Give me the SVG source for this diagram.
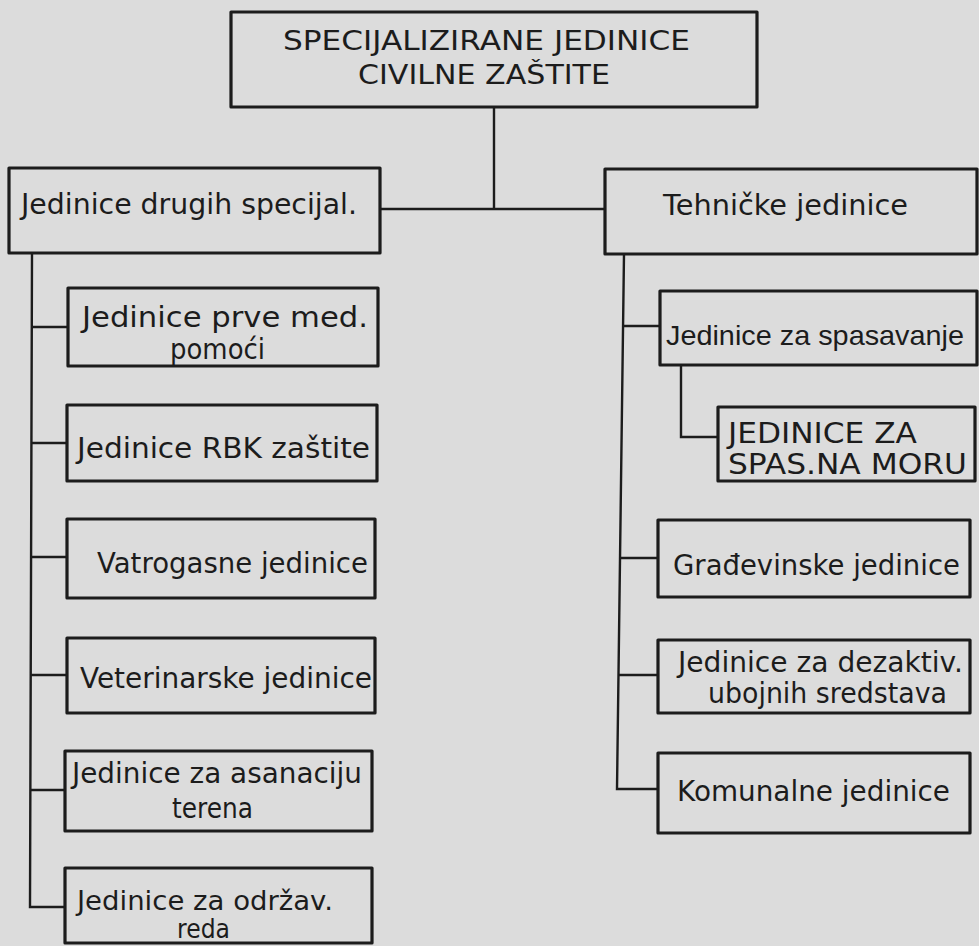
<svg xmlns="http://www.w3.org/2000/svg" width="979" height="946" viewBox="0 0 979 946">
<style>
.box{fill:none;stroke:#1c1c1c;stroke-width:3.2;stroke-linejoin:round}
.c{fill:none;stroke:#1c1c1c;stroke-width:2.4}
text{font-family:"DejaVu Sans","Liberation Sans",sans-serif;fill:#1c1c1c;font-size:28px}
.t{font-size:26px}
.u{font-size:29px}
.s{font-size:26px}
.n{font-family:"Liberation Sans",sans-serif}
</style>
<rect width="979" height="946" fill="#dcdcdc"/>
<g id="connectors">
<path class="c" d="M494,107 V209 M380,209 H605"/>
<path class="c" d="M32,253 L30,907 H65 M31,327 H68 M31,443 H67 M31,557 H67 M30,675 H67 M30,790 H65"/>
<path class="c" d="M624,254 L617,789 H658 M623,326 H660 M621,558 H658 M619,675 H658"/>
<path class="c" d="M681,365 V437 H718"/>
</g>
<g id="root">
<rect class="box" x="231" y="12" width="526" height="95"/>
<text class="t" x="283" y="50" textLength="407" lengthAdjust="spacingAndGlyphs">SPECIJALIZIRANE JEDINICE</text>
<text class="t" x="358" y="84" textLength="252" lengthAdjust="spacingAndGlyphs">CIVILNE ZAŠTITE</text>
</g>
<g id="drugih">
<rect class="box" x="9" y="168" width="371" height="85"/>
<text x="21" y="214" textLength="336" lengthAdjust="spacingAndGlyphs">Jedinice drugih specijal.</text>
</g>
<g id="tehnicke">
<rect class="box" x="605" y="169" width="372" height="85"/>
<text x="663" y="215" textLength="245" lengthAdjust="spacingAndGlyphs">Tehničke jedinice</text>
</g>
<g id="prvemed">
<rect class="box" x="68" y="288" width="310" height="78"/>
<text x="82" y="327" textLength="286" lengthAdjust="spacingAndGlyphs">Jedinice prve med.</text>
<text x="170" y="359" textLength="95" lengthAdjust="spacingAndGlyphs">pomoći</text>
</g>
<g id="rbk">
<rect class="box" x="67" y="405" width="310" height="76"/>
<text x="77" y="458" textLength="293" lengthAdjust="spacingAndGlyphs">Jedinice RBK zaštite</text>
</g>
<g id="vatrogasne">
<rect class="box" x="67" y="519" width="308" height="79"/>
<text x="97" y="573" textLength="271" lengthAdjust="spacingAndGlyphs">Vatrogasne jedinice</text>
</g>
<g id="veterinarske">
<rect class="box" x="67" y="638" width="308" height="75"/>
<text x="80" y="688" textLength="292" lengthAdjust="spacingAndGlyphs">Veterinarske jedinice</text>
</g>
<g id="asanacija">
<rect class="box" x="65" y="751" width="307" height="80"/>
<text x="72" y="783" textLength="290" lengthAdjust="spacingAndGlyphs">Jedinice za asanaciju</text>
<text x="172" y="818" textLength="81" lengthAdjust="spacingAndGlyphs">terena</text>
</g>
<g id="odrzav">
<rect class="box" x="65" y="868" width="307" height="75"/>
<text class="s" x="77" y="910" textLength="256" lengthAdjust="spacingAndGlyphs">Jedinice za održav.</text>
<text class="s" x="177" y="938" textLength="53" lengthAdjust="spacingAndGlyphs">reda</text>
</g>
<g id="spasavanje">
<rect class="box" x="660" y="291" width="317" height="74"/>
<text class="n" x="666" y="345" textLength="298" lengthAdjust="spacingAndGlyphs">Jedinice za spasavanje</text>
</g>
<g id="moru">
<rect class="box" x="718" y="407" width="257" height="74"/>
<text class="u" x="728" y="443" textLength="189" lengthAdjust="spacingAndGlyphs">JEDINICE ZA</text>
<text class="u" x="728" y="474" textLength="239" lengthAdjust="spacingAndGlyphs">SPAS.NA MORU</text>
</g>
<g id="gradevinske">
<rect class="box" x="658" y="520" width="312" height="77"/>
<text x="673" y="575" textLength="287" lengthAdjust="spacingAndGlyphs">Građevinske jedinice</text>
</g>
<g id="dezaktiv">
<rect class="box" x="658" y="640" width="312" height="73"/>
<text x="678" y="672" textLength="285" lengthAdjust="spacingAndGlyphs">Jedinice za dezaktiv.</text>
<text x="708" y="703" textLength="239" lengthAdjust="spacingAndGlyphs">ubojnih sredstava</text>
</g>
<g id="komunalne">
<rect class="box" x="658" y="753" width="312" height="80"/>
<text x="677" y="801" textLength="273" lengthAdjust="spacingAndGlyphs">Komunalne jedinice</text>
</g>
</svg>
